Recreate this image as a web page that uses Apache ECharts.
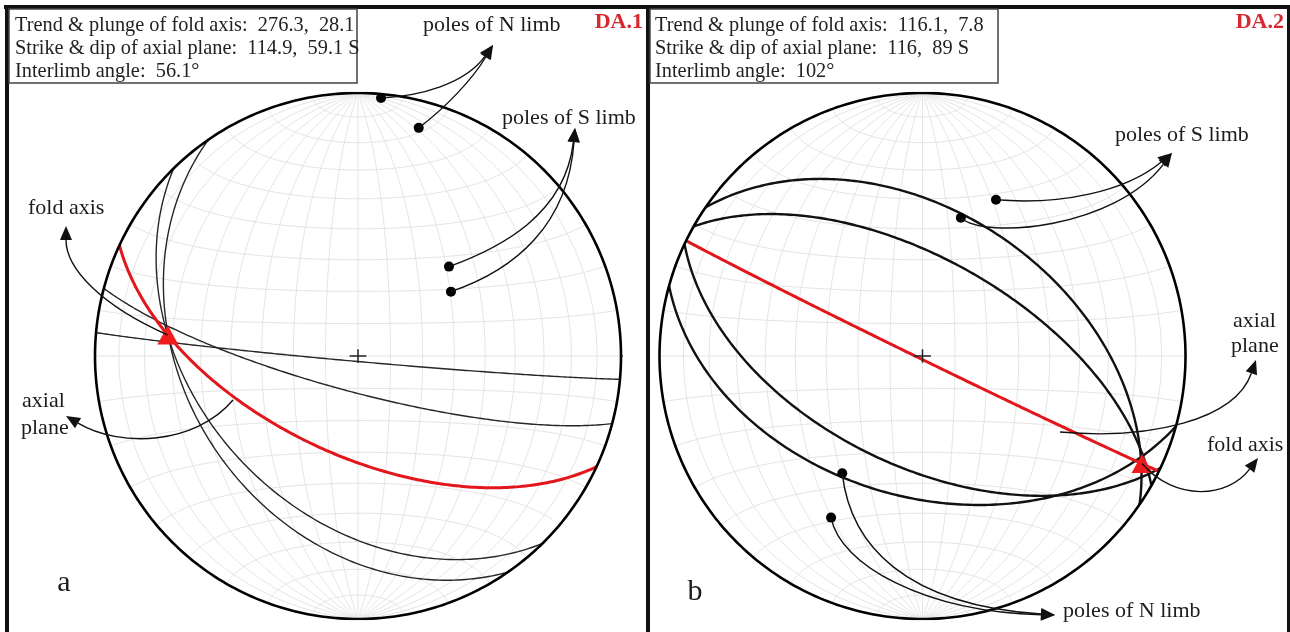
<!DOCTYPE html>
<html>
<head>
<meta charset="utf-8">
<title>Fold axes DA.1 / DA.2</title>
<script src="https://cdn.jsdelivr.net/npm/echarts@6/dist/echarts.min.js"></script>
<style>
  html, body { margin: 0; padding: 0; background: #fff; }
  #chart { width: 1290px; height: 632px; }
</style>
</head>
<body>
<div id="chart"></div>
<script>
const foldAxis1 = [276.3, 28.1];                 // trend, plunge
const axialPlane1 = [114.9, 59.1];               // strike, dip (right hand rule, dips S)
const nLimbPoles1 = [[5.1, 1.7], [14.9, 11.2]];  // trend, plunge
const sLimbPoles1 = [[45.5, 49.9], [55.3, 54.6]];

const foldAxis2 = [116.1, 7.8];
const axialPlane2 = [116, 89];
const sLimbPoles2 = [[25.2, 34.7], [15.5, 44.6]];
const nLimbPoles2 = [[214.4, 45.1], [209.5, 30.1]];

const infoLines1 = ['Trend & plunge of fold axis:  276.3,  28.1',
                    'Strike & dip of axial plane:  114.9,  59.1 S',
                    'Interlimb angle:  56.1°'];
const infoLines2 = ['Trend & plunge of fold axis:  116.1,  7.8',
                    'Strike & dip of axial plane:  116,  89 S',
                    'Interlimb angle:  102°'];

// ---- equal-area (Schmidt) lower hemisphere projection ----
const D = Math.PI / 180;
function project(v) {
  const k = Math.sqrt(1 / (1 + Math.max(0, v[2])));
  return [v[0] * k, v[1] * k];
}
function lineVec(trend, plunge) {
  return [Math.sin(trend * D) * Math.cos(plunge * D),
          Math.cos(trend * D) * Math.cos(plunge * D),
          Math.sin(plunge * D)];
}
function planeCurve(strike, dip) {
  const s = [Math.sin(strike * D), Math.cos(strike * D), 0];
  const d = lineVec(strike + 90, dip);
  const pts = [];
  for (let i = 0; i <= 180; i++) {
    const a = i * D;
    pts.push(project([0, 1, 2].map(j => Math.cos(a) * s[j] + Math.sin(a) * d[j])));
  }
  return pts;
}
function poleCurve(p) { return planeCurve(p[0] + 90, 90 - p[1]); }
function pointOf(p) { return project(lineVec(p[0], p[1])); }

function netCurves() {
  const out = [];
  for (let lam = 10; lam <= 170; lam += 10) {
    const pts = [];
    for (let f = -90; f <= 90; f += 1) {
      pts.push(project([Math.cos(f * D) * Math.cos(lam * D), Math.sin(f * D), Math.cos(f * D) * Math.sin(lam * D)]));
    }
    out.push(pts);
  }
  for (let phi = -80; phi <= 80; phi += 10) {
    const pts = [];
    for (let l = 0; l <= 180; l += 1) {
      pts.push(project([Math.cos(phi * D) * Math.cos(l * D), Math.sin(phi * D), Math.cos(phi * D) * Math.sin(l * D)]));
    }
    out.push(pts);
  }
  return out;
}
function primitive() {
  const pts = [];
  for (let a = 0; a <= 360; a++) pts.push([Math.cos(a * D), Math.sin(a * D)]);
  return pts;
}
function ticks() {
  const t = 0.032;
  return [
    [[0, 1], [0, 1.04]], [[0, -1], [0, -1.06]], [[1, 0], [1 + t, 0]], [[-1, 0], [-1 - t, 0]],
    [[-t, 0], [t, 0]], [[0, -0.026], [0, 0.026]]
  ];
}

const nets = [
  { fold: foldAxis1, axial: axialPlane1, poles: nLimbPoles1.concat(sLimbPoles1), width: 1.4, color: '#262626' },
  { fold: foldAxis2, axial: axialPlane2, poles: sLimbPoles2.concat(nLimbPoles2), width: 2.4, color: '#111' }
];

const R_PX = 263;
const centers = [[358, 356], [922.5, 356]];
const SERIF = '"Liberation Serif", "Times New Roman", serif';

const series = [];
nets.forEach((n, i) => {
  const ax = { xAxisIndex: i, yAxisIndex: i, coordinateSystem: 'cartesian2d', silent: true };
  series.push(Object.assign({ type: 'lines', polyline: true, z: 1,
    data: netCurves().map(c => ({ coords: c })), lineStyle: { color: '#e4e4e4', width: 1, opacity: 1 } }, ax));
  series.push(Object.assign({ type: 'lines', polyline: true, z: 3,
    data: n.poles.map(p => ({ coords: poleCurve(p) })), lineStyle: { color: n.color, width: n.width, opacity: 1 } }, ax));
  series.push(Object.assign({ type: 'lines', polyline: true, z: 4,
    data: [{ coords: planeCurve(n.axial[0], n.axial[1]) }], lineStyle: { color: '#e3161c', width: 3, opacity: 1 } }, ax));
  series.push(Object.assign({ type: 'lines', polyline: true, z: 5,
    data: [{ coords: primitive() }], lineStyle: { color: '#000', width: 2.6, opacity: 1 } }, ax));
  series.push(Object.assign({ type: 'lines', polyline: true, z: 5,
    data: ticks().map(c => ({ coords: c })), lineStyle: { color: '#222', width: 1.5, opacity: 1 } }, ax));
  series.push(Object.assign({ type: 'scatter', z: 6, symbol: 'circle', symbolSize: 10,
    itemStyle: { color: '#000', opacity: 1 }, data: n.poles.map(pointOf) }, ax));
  series.push(Object.assign({ type: 'scatter', z: 7, symbol: 'triangle', symbolSize: [21, 19],
    itemStyle: { color: '#ee1c1c', opacity: 1 }, data: [pointOf(n.fold)] }, ax));
});

const chart = echarts.init(document.getElementById('chart'));
chart.setOption({
  animation: false,
  backgroundColor: '#fff',
  grid: centers.map(c => ({ left: c[0] - R_PX, top: c[1] - R_PX, width: 2 * R_PX, height: 2 * R_PX })),
  xAxis: [0, 1].map(i => ({ type: 'value', gridIndex: i, min: -1, max: 1, show: false })),
  yAxis: [0, 1].map(i => ({ type: 'value', gridIndex: i, min: -1, max: 1, show: false })),
  series: series
});

// ---- annotations ----
function px(g, p) { return chart.convertToPixel({ gridIndex: g }, pointOf(p)); }

function arrow(p0, c1, c2, p1) {
  const dx = p1[0] - c2[0], dy = p1[1] - c2[1], L = Math.hypot(dx, dy);
  const ux = dx / L, uy = dy / L;
  const bx = p1[0] - ux * 14, by = p1[1] - uy * 14;
  return [
    { type: 'bezierCurve', z: 50, silent: true,
      shape: { x1: p0[0], y1: p0[1], cpx1: c1[0], cpy1: c1[1], cpx2: c2[0], cpy2: c2[1], x2: bx, y2: by },
      style: { stroke: '#111', lineWidth: 1.4, fill: 'none' } },
    { type: 'polygon', z: 51, silent: true,
      shape: { points: [[p1[0], p1[1]], [bx - uy * 6, by + ux * 6], [bx + uy * 6, by - ux * 6]] },
      style: { fill: '#111' } }
  ];
}

function label(text, x, y, style, extra) {
  return Object.assign({ type: 'text', x: x, y: y, z: 60, silent: true,
    style: Object.assign({ text: text, fontFamily: SERIF, fontSize: 22, fill: '#1c1c1c',
      textAlign: 'left', align: 'left', textVerticalAlign: 'middle', verticalAlign: 'middle' }, style || {}) }, extra || {});
}

function rect(x, y, w, h, style) {
  return { type: 'rect', z: 40, silent: true, shape: { x: x, y: y, width: w, height: h }, style: style };
}

const graphics = [
  rect(4, 5, 1286, 4, { fill: '#111' }),
  rect(5, 5, 4, 627, { fill: '#111' }),
  rect(646, 5, 4, 627, { fill: '#111' }),
  rect(1287, 5, 3, 627, { fill: '#111' }),
  rect(9, 9, 348, 74, { fill: '#fff', stroke: '#444', lineWidth: 1.5 }),
  rect(650, 9, 348, 74, { fill: '#fff', stroke: '#444', lineWidth: 1.5 })
];

[[15, infoLines1], [655, infoLines2]].forEach(([x, lines]) => {
  lines.forEach((t, k) => graphics.push(label(t, x, 25.6 + k * 23, { fill: '#222' }, { scaleX: 0.925 })));
});

graphics.push(label('DA.1', 643, 22, { fill: '#d7282f', fontWeight: 'bold', textAlign: 'right', align: 'right' }));
graphics.push(label('DA.2', 1284, 22, { fill: '#d7282f', fontWeight: 'bold', textAlign: 'right', align: 'right' }));

// left net
graphics.push(label('poles of N limb', 423, 25));
graphics.push(label('poles of S limb', 502, 118));
graphics.push(label('fold axis', 28, 208));
graphics.push(label('axial', 22, 401));
graphics.push(label('plane', 21, 428));
graphics.push(label('a', 64, 583, { fontSize: 30, textAlign: 'center', align: 'center' }));
// right net
graphics.push(label('poles of S limb', 1115, 135));
graphics.push(label('axial', 1233, 321));
graphics.push(label('plane', 1231, 346));
graphics.push(label('fold axis', 1207, 445));
graphics.push(label('poles of N limb', 1063, 611));
graphics.push(label('b', 695, 592, { fontSize: 30, textAlign: 'center', align: 'center' }));

const arrowList = [
  [px(0, nLimbPoles1[0]), [420, 96], [465, 84], [493, 45]],
  [px(0, nLimbPoles1[1]), [445, 108], [472, 80], [493, 45]],
  [px(0, sLimbPoles1[0]), [500, 248], [565, 215], [575, 128]],
  [px(0, sLimbPoles1[1]), [515, 270], [568, 225], [575, 128]],
  [px(0, foldAxis1), [100, 305], [66, 268], [66, 226]],
  [[233, 400], [195, 445], [120, 448], [66, 416]],
  [px(1, sLimbPoles2[0]), [1060, 205], [1125, 192], [1172, 153]],
  [px(1, sLimbPoles2[1]), [985, 240], [1115, 228], [1172, 153]],
  [[1060, 432], [1150, 440], [1235, 420], [1256, 360]],
  [px(1, foldAxis2), [1175, 502], [1228, 498], [1258, 458]],
  [px(1, nLimbPoles2[0]), [850, 545], [905, 605], [1055, 615]],
  [px(1, nLimbPoles2[1]), [840, 565], [925, 612], [1055, 615]]
];
arrowList.forEach(a => graphics.push(...arrow(a[0], a[1], a[2], a[3])));

chart.setOption({ graphic: graphics });

window.addEventListener('resize', function () { chart.resize(); });
</script>
</body>
</html>
